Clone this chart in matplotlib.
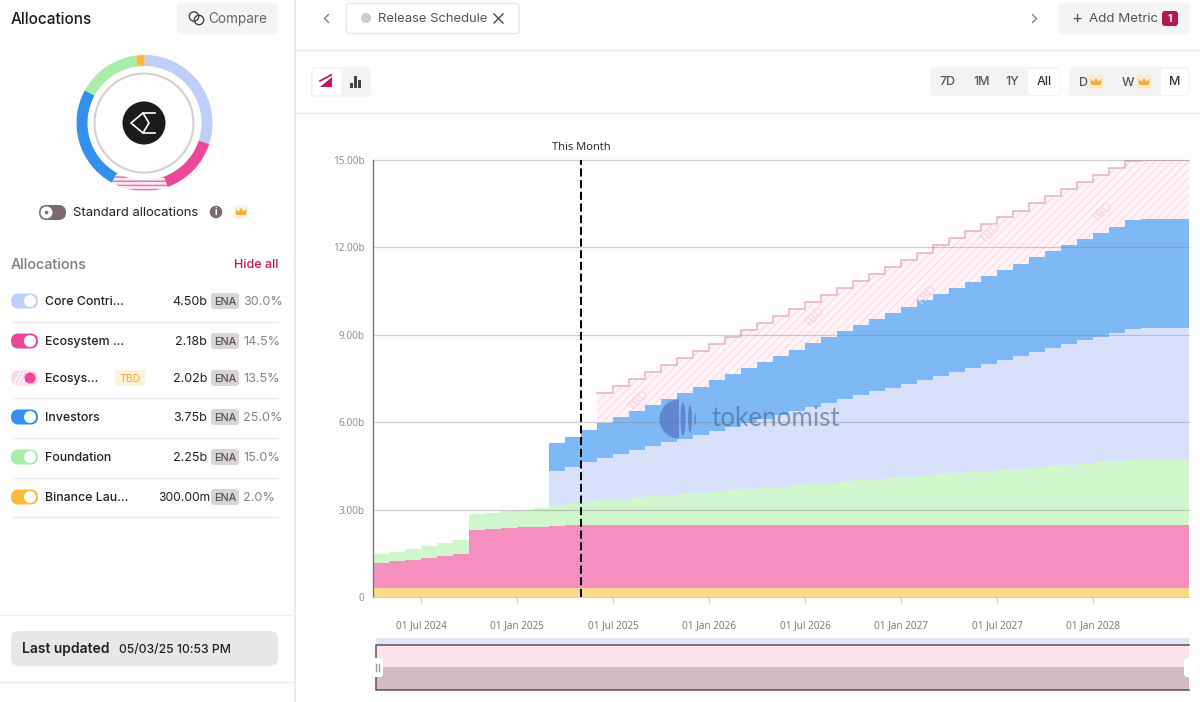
import numpy as np
import matplotlib
matplotlib.use("Agg")
import matplotlib.pyplot as plt
from matplotlib.patches import FancyBboxPatch, Circle, Rectangle, Ellipse, Polygon, Wedge

# ---------------- data ----------------
first_month = "2024-04"
tick_months = [3, 9, 15, 21, 27, 33, 39, 45]
tick_labels = ["01 Jul 2024", "01 Jan 2025", "01 Jul 2025", "01 Jan 2026",
               "01 Jul 2026", "01 Jan 2027", "01 Jul 2027", "01 Jan 2028"]
y_ticks = [0, 3, 6, 9, 12, 15]
y_labels = ["0", "3.00b", "6.00b", "9.00b", "12.00b", "15.00b"]
this_month = 13

binance = [.30] * 51
ecosystem = [.87, .92, .98, 1.04, 1.10, 1.16, 2.00, 2.03, 2.06, 2.09, 2.11, 2.15, 2.17, 2.175,
             2.18, 2.18, 2.18, 2.18, 2.18, 2.18, 2.18, 2.18, 2.18, 2.18, 2.18, 2.18, 2.18, 2.18,
             2.18, 2.18, 2.18, 2.18, 2.18, 2.18, 2.18, 2.18, 2.18, 2.18, 2.18, 2.18, 2.18, 2.18,
             2.18, 2.18, 2.18, 2.18, 2.18, 2.18, 2.18, 2.18, 2.18]
foundation = [.30, .34, .38, .40, .44, .48, .54, .56, .58, .61, .66, .70, .75, .81,
              .85, .89, .93, .98, 1.02, 1.06, 1.10, 1.14, 1.18, 1.23, 1.27, 1.31, 1.35, 1.39,
              1.43, 1.48, 1.52, 1.56, 1.60, 1.64, 1.68, 1.73, 1.77, 1.81, 1.85, 1.89, 1.93, 1.98,
              2.02, 2.06, 2.10, 2.14, 2.18, 2.24, 2.25, 2.25, 2.25]
core = [0, 0, 0, 0, 0, 0, 0, 0, 0, 0, 0, 1.16, 1.25, 1.34,
        1.44, 1.53, 1.62, 1.72, 1.81, 1.90, 1.99, 2.09, 2.18, 2.27, 2.37, 2.46, 2.55, 2.65,
        2.74, 2.83, 2.92, 3.02, 3.11, 3.20, 3.30, 3.39, 3.48, 3.58, 3.67, 3.76, 3.85, 3.95,
        4.04, 4.13, 4.23, 4.32, 4.41, 4.49, 4.50, 4.50, 4.50]
investors = [0, 0, 0, 0, 0, 0, 0, 0, 0, 0, 0, .96, 1.03, 1.11,
             1.19, 1.27, 1.34, 1.42, 1.50, 1.57, 1.65, 1.73, 1.80, 1.88, 1.96, 2.03, 2.11, 2.19,
             2.26, 2.34, 2.42, 2.49, 2.57, 2.65, 2.72, 2.80, 2.88, 2.95, 3.03, 3.11, 3.18, 3.26,
             3.34, 3.41, 3.49, 3.57, 3.64, 3.74, 3.75, 3.75, 3.75]
ecosystem_tbd = [0, 0, 0, 0, 0, 0, 0, 0, 0, 0, 0, 0, 0, 0,
                 1.04, 1.07, 1.10, 1.13, 1.16, 1.19, 1.22, 1.25, 1.28, 1.31, 1.34, 1.37, 1.40, 1.43,
                 1.46, 1.49, 1.52, 1.55, 1.58, 1.61, 1.64, 1.67, 1.70, 1.73, 1.76, 1.79, 1.82, 1.85,
                 1.88, 1.91, 1.94, 1.97, 2.00, 2.02, 2.02, 2.02, 2.02]

alloc_names = ["Core Contri...", "Ecosystem ...", "Ecosys...", "Investors", "Foundation", "Binance Lau..."]
alloc_values = ["4.50b", "2.18b", "2.02b", "3.75b", "2.25b", "300.00m"]
alloc_pct = [30.0, 14.5, 13.5, 25.0, 15.0, 2.0]
alloc_colors = ["#c0cff8", "#ec4899", "#f9c4dc", "#3390ec", "#a9edaa", "#fdb93c"]

# ---------------- figure ----------------
W, H = 1200, 702
BG = "#fdfdfe"
UI = "Inter"
CHART = "Open Sans"
fig = plt.figure(figsize=(W / 100, H / 100), dpi=100, facecolor=BG)


def px_axes(l, t, r, b, **kw):
    return fig.add_axes([l / W, 1 - b / H, (r - l) / W, (b - t) / H], **kw)


# chart
ax = px_axes(373, 160, 1189, 597, facecolor=BG)
x = np.arange(52)
layers = [
    (binance, "#ffd98a"),
    (ecosystem, "#f48fbf"),
    (foundation, "#cff6cd"),
    (core, "#d8e0fb"),
    (investors, "#7fb9f5"),
]
base = np.zeros(52)
for vals, col in layers:
    v = np.array(vals + [vals[-1]], dtype=float)
    idx = np.argmax(v > 0)
    ax.fill_between(x[idx:], base[idx:], (base + v)[idx:], step="post", color=col, lw=0, zorder=2)
    base = base + v

plt.rcParams["hatch.linewidth"] = 1.0
v = np.array(ecosystem_tbd + [ecosystem_tbd[-1]], dtype=float)
idx = np.argmax(v > 0)
ax.fill_between(x[idx:], base[idx:], (base + v)[idx:], step="post", facecolor="#fef5f8",
                edgecolor="#fbdde8", hatch="////", lw=0, zorder=2)
ax.step(x[idx:], (base + v)[idx:], where="post", color="#eeabc8", lw=1.1, zorder=3)

for tx, ty in [(16.6, 6.75), (27.6, 9.6), (34.6, 10.37), (38.6, 12.5), (45.6, 13.2)]:
    ax.text(tx, ty, "TBD", rotation=45, ha="center", va="center", fontsize=9,
            color="#f8cfde", family=CHART, zorder=3)

ax.set_xlim(0, 51)
ax.set_ylim(0, 15)
ax.set_yticks(y_ticks, y_labels, family=CHART, fontsize=7.2, color="#8a8a8a")
ax.set_xticks(tick_months, tick_labels, family=CHART, fontsize=7.2, color="#777777")
ax.tick_params(axis="y", length=0, pad=6)
ax.tick_params(axis="x", length=4, width=0.8, color="#cccccc", pad=13)
for y in y_ticks[1:]:
    ax.axhline(y, color="#808080", alpha=0.36, lw=0.9, zorder=4, clip_on=False)
for s in ["top", "right"]:
    ax.spines[s].set_visible(False)
ax.spines["left"].set_color("#777777")
ax.spines["left"].set_linewidth(1)
ax.spines["bottom"].set_color("#cfcfcf")
ax.axvline(this_month, color="black", lw=1.45, ls=(0, (4, 1.8)), zorder=5)

# UI overlay in pixel coordinates
ui = fig.add_axes([0, 0, 1, 1], facecolor="none", zorder=5)
ui.set_xlim(0, W)
ui.set_ylim(H, 0)
ui.axis("off")


def box(l, t, r, b, fc, rad=4, ec="none", lw=0, z=2):
    ui.add_patch(FancyBboxPatch((l, t), r - l, b - t, boxstyle=f"round,pad=0,rounding_size={rad}",
                                fc=fc, ec=ec, lw=lw, zorder=z, mutation_aspect=1))


def hline(y, a, b, c="#ececec", lw=1):
    ui.plot([a, b], [y, y], color=c, lw=lw, zorder=1, solid_capstyle="butt")


def label(px, py, s, size=10, c="#222222", ha="left", w="normal", fam=UI, z=6, **kw):
    ui.text(px, py + 1, s, fontsize=size, color=c, ha=ha, va="center", weight=w, family=fam, zorder=z, **kw)


def crown(cx, cy, s=1.0, c="#f3ad3c"):
    pts = [(-5, 3), (-5.5, -3), (-2.5, -0.5), (0, -4), (2.5, -0.5), (5.5, -3), (5, 3)]
    ui.add_patch(Polygon([(cx + a * s, cy + b * s) for a, b in pts], fc=c, ec="none", zorder=7))


# frame lines
ui.plot([294.5, 294.5], [0, H], color="#eaeaea", lw=1.5, zorder=1)
hline(50, 295, W)
hline(112.5, 295, W)
hline(615, 0, 294)
hline(682, 0, 294)

# sidebar header
label(11, 18, "Allocations", 11, "#1c1c1c", w="medium")
box(177, 3, 278, 34, "#f4f4f5", 4)
ui.add_patch(Circle((194, 16.5), 4.7, fc="none", ec="#444444", lw=1, zorder=6))
ui.add_patch(Circle((199, 20), 4.7, fc="none", ec="#444444", lw=1, zorder=6))
label(208, 18, "Compare", 9.8, "#666666")

# donut
dax = px_axes(76.5, 55, 212.5, 191, facecolor="none", zorder=6)
wedges, _ = dax.pie(alloc_pct, colors=alloc_colors, startangle=90, counterclock=False, radius=1,
                    wedgeprops=dict(width=11 / 68, lw=0))
wedges[2].set_hatch("----")
wedges[2].set_facecolor("#fdeaf2")
wedges[2].set_edgecolor("#ec6ca8")
wedges[2].set_linewidth(0)
dax.set_xlim(-1, 1)
dax.set_ylim(-1, 1)
ui.add_patch(Circle((144, 123), 49.5, fc="none", ec="#d4cfd2", lw=1.5, zorder=3))
ui.add_patch(Circle((144, 123), 21.5, fc="#1b1b1b", ec="none", zorder=4))
ui.plot([155, 143, 131, 143, 155], [113, 113, 123, 133, 133], color="white", lw=1.2, zorder=5)
ui.plot([143, 149, 143], [113, 123, 133], color="white", lw=1.2, zorder=5)

# standard allocations row
box(39, 205, 66, 220, "#7a6b73", 7.5)
ui.add_patch(Circle((46.5, 212.5), 6, fc="white", ec="none", zorder=4))
ui.add_patch(Circle((46.5, 212.5), 1.8, fc="#7a6b73", ec="none", zorder=5))
label(73, 212, "Standard allocations", 9.4, "#222222")
ui.add_patch(Circle((216, 212), 6.3, fc="#7a6b73", ec="none", zorder=4))
label(216, 211, "i", 7, "white", ha="center", w="bold")
box(234, 205, 248, 219, "#fdf3dd", 3)
crown(241, 212, 1.0)

# allocations table
label(11, 264, "Allocations", 10.3, "#7c7c7c", w="medium")
label(278, 264.5, "Hide all", 9, "#c2185b", ha="right", w="medium")
rows = [301, 341, 378, 417, 457, 497]
for y in [321, 397, 437, 477, 516]:
    hline(y + 0.5, 11, 278)
for i, y in enumerate(rows):
    col = alloc_colors[i]
    tbd = i == 2
    box(11, y - 7.5, 38, y + 7.5, "#fbd5e5" if tbd else col, 7.5)
    if tbd:
        for k in range(4):
            ui.plot([14 + k * 4, 20 + k * 4], [y + 6, y - 6], color="white", lw=1, zorder=3)
        ui.add_patch(Circle((30, y), 5.5, fc="#ec4899", ec="none", zorder=4))
    else:
        ui.add_patch(Circle((30, y), 6, fc="white", ec="none", zorder=4))
    label(45, y, alloc_names[i], 8.9, "#222222", w="medium")
    if i == 5:
        label(210, y, alloc_values[i], 8.7, "#222222", ha="right")
    else:
        label(207, y, alloc_values[i], 9, "#222222", ha="right")
    box(211, y - 8, 239, y + 8, "#d9d4d7", 3)
    label(225, y, "ENA", 7.8, "#555555", ha="center", w="medium")
    label(243, y, f"{alloc_pct[i]:.1f}%", 9.1, "#8a8486")
box(115, 370, 145, 386, "#fdf3dd", 3)
label(130, 377.5, "TBD", 7.5, "#f0b23c", ha="center", w="medium")

# last updated
box(11, 631, 278, 666, "#e8e6e8", 8)
label(22, 648, "Last updated", 10, "#222222", w="semibold")
label(119, 648.5, "05/03/25 10:53 PM", 8.8, "#222222", w="medium")

# top bar
ui.plot([328.5, 324.5, 328.5], [14.5, 18.5, 22.5], color="#777777", lw=0.9, zorder=6)
ui.plot([1032.5, 1036.5, 1032.5], [14.5, 18.5, 22.5], color="#777777", lw=0.9, zorder=6)
box(346.5, 3.5, 519, 33.5, "white", 3, ec="#e6e6e6", lw=1)
ui.add_patch(Circle((366, 18), 5, fc="#d0cccd", ec="none", zorder=6))
label(378, 18, "Release Schedule", 9.4, "#555555")
ui.plot([494, 503], [14, 23], color="#444444", lw=1, zorder=6)
ui.plot([494, 503], [23, 14], color="#444444", lw=1, zorder=6)
box(1058, 3, 1190, 34, "#f4f4f5", 4)
label(1077, 17, "+", 12, "#555555", ha="center")
label(1089, 18, "Add Metric", 9.6, "#555555")
box(1162, 11, 1178, 26, "#b5174f", 3)
label(1170, 17.5, "1", 7.5, "white", ha="center", w="bold")

# chart-type buttons
box(311, 67, 371, 97, "#f3f3f4", 5)
box(313, 69, 341, 95, "white", 4)
ui.add_patch(Polygon([(320, 87), (332, 77), (332, 87)], fc="#c2185b", ec="none", zorder=6))
ui.plot([320, 331], [81, 75], color="#c2185b", lw=1.3, zorder=6)
for bx, bt in [(351, 83), (355, 76), (359, 80)]:
    ui.add_patch(Rectangle((bx - 1.5, bt), 3, 88 - bt, fc="#444444", ec="none", zorder=6))

# ranges
box(930, 67, 1060, 96, "#f3f3f4", 5)
box(1028, 69, 1059, 95, "white", 4)
for s, px in [("7D", 948), ("1M", 982), ("1Y", 1012), ("All", 1044)]:
    label(px, 81, s, 9, "#333333" if s == "All" else "#555555", ha="center", w="medium")
box(1069, 67, 1189, 96, "#f3f3f4", 5)
box(1161, 69, 1188, 95, "white", 4)
label(1083, 82, "D", 9, "#555555", ha="center", w="medium")
box(1089, 75, 1103, 89, "#fdeccb", 3)
crown(1096, 82, 1.0)
label(1128, 82, "W", 9, "#555555", ha="center", w="medium")
box(1137, 75, 1151, 89, "#fdeccb", 3)
crown(1144, 82, 1.0)
label(1175, 81, "M", 9, "#333333", ha="center", w="medium")

# this month label
label(581, 147, "This Month", 8, "#222222", ha="center", fam=CHART)

# watermark
wm = "#4f67b8"
ui.add_patch(Wedge((679, 419), 19.5, 90, 270, fc=wm, alpha=0.62, ec="none", zorder=3))
ui.add_patch(Ellipse((683, 419), 5, 33, fc=wm, alpha=0.62, ec="none", zorder=3))
ui.add_patch(Ellipse((690, 419), 4, 27, fc=wm, alpha=0.62, ec="none", zorder=3))
ui.add_patch(Ellipse((695, 419), 1.6, 12, fc=wm, alpha=0.62, ec="none", zorder=3))
label(775.5, 418, "tokenomist", 18.7, "#46648f", ha="center", z=3, alpha=0.6, fam="Lato")

# zoom slider
ui.add_patch(Rectangle((376, 638), 813, 7, fc="#dfe7f6", ec="none", zorder=2))
ui.add_patch(Rectangle((376, 645), 813, 22, fc="#fae3ea", ec="none", zorder=2))
ui.add_patch(Rectangle((376, 667), 813, 23, fc="#d2bcc4", ec="none", zorder=2))
ui.plot([1189, 376, 376, 1189], [645, 645, 690, 690], color="#6f5a62", lw=1.2, zorder=3)
box(371, 658, 383, 677, "white", 3, z=4)
box(1184, 658, 1196, 677, "white", 3, z=4)
for px in [375.5, 378.5]:
    ui.plot([px, px], [664, 671], color="#999999", lw=1, zorder=5)

fig.savefig("out.png", dpi=100, facecolor=BG)
